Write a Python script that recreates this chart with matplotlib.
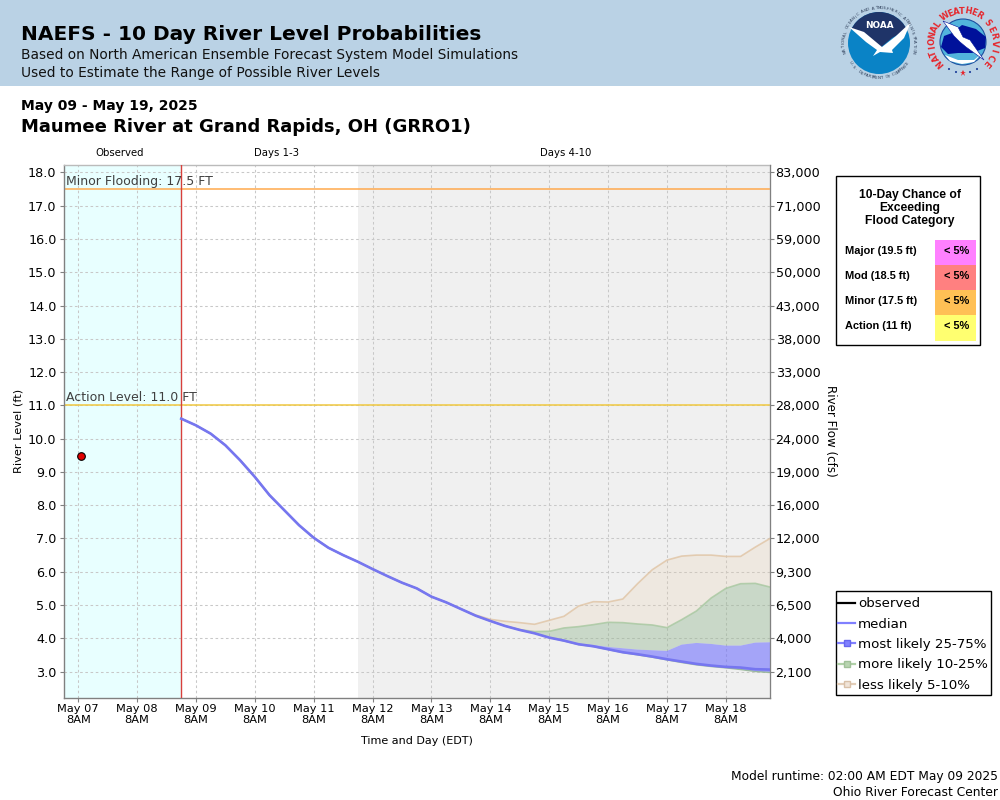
from datetime import datetime, timedelta
import numpy as np
import matplotlib
matplotlib.use('Agg')
import matplotlib.pyplot as plt
import matplotlib.dates as mdates
from matplotlib.lines import Line2D
from matplotlib.patches import Rectangle, Circle, Polygon

plt.rcParams['font.family'] = 'DejaVu Sans'

# forecast points every 6 hours starting May 09 2AM
start = datetime(2025, 5, 9, 2)
median = [10.6, 10.4, 10.15, 9.8, 9.35, 8.85, 8.3, 7.85, 7.4, 7.02, 6.72, 6.5, 6.3, 6.08,
          5.87, 5.67, 5.5, 5.25, 5.08, 4.88, 4.68, 4.52, 4.37, 4.25, 4.15, 4.02, 3.93, 3.82,
          3.76, 3.67, 3.58, 3.52, 3.45, 3.37, 3.3, 3.23, 3.18, 3.14, 3.12, 3.07, 3.06]
lower_25 = [10.6, 10.4, 10.15, 9.8, 9.35, 8.85, 8.3, 7.85, 7.4, 7.02, 6.72, 6.5, 6.3, 6.08,
            5.87, 5.67, 5.5, 5.25, 5.08, 4.88, 4.68, 4.52, 4.37, 4.25, 4.15, 4.02, 3.92, 3.81,
            3.75, 3.66, 3.57, 3.5, 3.43, 3.35, 3.27, 3.2, 3.15, 3.11, 3.06, 3.0, 2.97]
upper_25 = [10.6, 10.4, 10.15, 9.8, 9.35, 8.85, 8.3, 7.85, 7.4, 7.02, 6.72, 6.5, 6.3, 6.08,
            5.87, 5.67, 5.5, 5.25, 5.08, 4.88, 4.68, 4.52, 4.37, 4.25, 4.15, 4.02, 3.96, 3.84,
            3.8, 3.74, 3.7, 3.66, 3.64, 3.62, 3.81, 3.86, 3.83, 3.78, 3.78, 3.87, 3.88]
upper_10 = [10.6, 10.4, 10.15, 9.8, 9.35, 8.85, 8.3, 7.85, 7.4, 7.02, 6.72, 6.5, 6.3, 6.08,
            5.87, 5.67, 5.5, 5.25, 5.08, 4.88, 4.68, 4.52, 4.37, 4.26, 4.2, 4.21, 4.31, 4.35,
            4.41, 4.48, 4.47, 4.43, 4.4, 4.32, 4.56, 4.82, 5.21, 5.5, 5.64, 5.65, 5.54]
upper_5 = [10.6, 10.4, 10.15, 9.8, 9.35, 8.85, 8.3, 7.85, 7.4, 7.02, 6.72, 6.5, 6.3, 6.08,
           5.87, 5.67, 5.5, 5.25, 5.08, 4.88, 4.7, 4.57, 4.51, 4.47, 4.42, 4.54, 4.66, 4.97,
           5.1, 5.09, 5.18, 5.64, 6.06, 6.35, 6.47, 6.5, 6.5, 6.46, 6.46, 6.74, 7.0]
times = [start + timedelta(hours=6 * i) for i in range(len(median))]

obs_time = [datetime(2025, 5, 7, 9)]
obs_level = [9.48]

stage_ticks = list(range(3, 19))
flow_labels = ['2,100', '4,000', '6,500', '9,300', '12,000', '16,000', '19,000', '24,000',
               '28,000', '33,000', '38,000', '43,000', '50,000', '59,000', '71,000', '83,000']
day_ticks = [datetime(2025, 5, d, 8) for d in range(7, 19)]

categories = ['Major (19.5 ft)', 'Mod (18.5 ft)', 'Minor (17.5 ft)', 'Action (11 ft)']
chances = ['< 5%', '< 5%', '< 5%', '< 5%']
cat_colors = ['#ff80ff', '#ff8080', '#ffc055', '#ffff70']

W, H = 1000, 800
fig = plt.figure(figsize=(10, 8), dpi=100)


def fx(px):
    return px / W


def fy(py):
    return 1 - py / H


def ring_text(ax, text, cx, cy, r, a0, a1, bottom=False, **kw):
    # letters placed one by one along an arc, angles in degrees
    for ch, a in zip(text, np.linspace(a0, a1, len(text))):
        rad = np.deg2rad(a)
        rot = a + 90 if bottom else a - 90
        ax.text(cx + r * np.cos(rad), cy - r * np.sin(rad), ch, ha='center', va='center', rotation=rot, **kw)


# header band
fig.add_artist(Rectangle((0, fy(86)), 1, 86 / H, transform=fig.transFigure, color='#bad2e5', lw=0))
fig.text(fx(21), fy(40), 'NAEFS - 10 Day River Level Probabilities', fontsize=14.5, fontweight='bold', va='baseline')
fig.text(fx(21), fy(58.5), 'Based on North American Ensemble Forecast System Model Simulations', fontsize=9.9, va='baseline', color='#111111')
fig.text(fx(21), fy(77.3), 'Used to Estimate the Range of Possible River Levels', fontsize=9.9, va='baseline', color='#111111')
fig.text(fx(21), fy(110), 'May 09 - May 19, 2025', fontsize=10, fontweight='bold', va='baseline')
fig.text(fx(21), fy(132), 'Maumee River at Grand Rapids, OH (GRRO1)', fontsize=13, fontweight='bold', va='baseline')

# logos, rough
logo = fig.add_axes([0, 0, 1, 1], zorder=5)
logo.set_xlim(0, W)
logo.set_ylim(H, 0)
logo.axis('off')

disc = Circle((879, 43), 31, fc='#0a83c6', ec='none')
logo.add_patch(disc)
navy = Polygon([[845, 5], [913, 5], [913, 26], [892, 38], [880, 48], [866, 36], [845, 26]], fc='#1f3468', lw=0)
logo.add_patch(navy)
navy.set_clip_path(disc)
bird = Polygon([[849, 27], [864, 32], [876, 42], [882, 47], [896, 36], [911, 22], [904, 38], [892, 50], [893, 53],
                [880, 52], [873, 56], [877, 50], [866, 42]], fc='white', lw=0)
logo.add_patch(bird)
logo.text(879, 25, 'NOAA', color='white', fontsize=6.4, fontweight='bold', ha='center', va='center')
ring_text(logo, 'NATIONAL OCEANIC AND ATMOSPHERIC ADMINISTRATION', 879, 43, 35, 195, -15,
          color='#2a3a55', fontsize=2.9)
ring_text(logo, 'U.S. DEPARTMENT OF COMMERCE', 879, 43, 35, 215, 325, bottom=True, color='#2a3a55', fontsize=2.9)

logo.add_patch(Circle((963, 42), 23, fc='#52b4dc', ec='#1d4fa0', lw=0.8))
logo.add_patch(Polygon([[941, 47], [944, 36], [952, 33], [962, 25], [976, 29], [986, 37], [985, 48], [972, 53], [958, 53], [948, 54]],
                       fc='#00119a', lw=0))
logo.add_patch(Polygon([[945, 55], [958, 60], [974, 60], [981, 54], [974, 62], [962, 64], [950, 61]], fc='#ffffff', lw=0))
logo.add_patch(Polygon([[943, 21], [958, 27], [963, 37], [970, 40], [984, 60], [966, 47], [960, 42], [954, 36]],
                       fc='white', ec='#00119a', lw=0.4))
ring_text(logo, 'NATIONAL', 963, 42, 31, 222, 145, color='#e6262c', fontsize=6, fontweight='bold')
ring_text(logo, 'WEATHER', 963, 42, 31, 125, 58, color='#e6262c', fontsize=6, fontweight='bold')
ring_text(logo, 'SERVICE', 963, 42, 31, 38, -42, color='#e6262c', fontsize=6, fontweight='bold')
for sx, sy, sz in [(949, 69, 1.5), (956, 72, 1.5), (970, 72, 1.5), (977, 69, 1.5)]:
    logo.add_patch(Circle((sx, sy), sz * 0.7, fc='#1d3f9a', lw=0))
logo.plot([963], [73], marker='*', color='#e6262c', ms=4.5, mew=0)
logo.set_xlim(0, W)
logo.set_ylim(H, 0)

# main axes, pixel box 63.5-770 x 164.5-697.5
ax = fig.add_axes([fx(63.5), fy(697.5), 706.5 / W, 533 / H], zorder=2)
xmin, xmax = datetime(2025, 5, 7, 2), datetime(2025, 5, 19, 2)
ax.set_xlim(xmin, xmax)
ax.set_ylim(2.22, 18.24)
ax.axvspan(xmin, start, color='#e8ffff', lw=0, zorder=0)
ax.axvspan(datetime(2025, 5, 12, 2), xmax, color='#f0f0f0', lw=0, zorder=0)
ax.grid(True, color='#c8c8c8', ls=(0, (2.5, 2.5)), lw=0.75, zorder=1)
ax.set_axisbelow(True)

ax.axhline(17.5, color='#ffa94d', lw=1.1, zorder=2)
ax.axhline(11.0, color='#f0c840', lw=1.1, zorder=2)
ax.text(datetime(2025, 5, 7, 3), 17.53, 'Minor Flooding: 17.5 FT', fontsize=9, color='#404040', va='bottom', zorder=6)
ax.text(datetime(2025, 5, 7, 3), 11.03, 'Action Level: 11.0 FT', fontsize=9, color='#404040', va='bottom', zorder=6)
ax.axvline(start, color='#d8403c', lw=1, zorder=3)

t = mdates.date2num(times)
ax.fill_between(t, upper_10, upper_5, fc='#e8c8a0', alpha=0.2, ec='none', zorder=3)
ax.plot(t, upper_5, color='#e0c4a4', alpha=0.8, lw=1.2, zorder=3)
ax.fill_between(t, upper_25, upper_10, fc='#90b48c', alpha=0.4, ec='none', zorder=3)
ax.plot(t, upper_10, color='#a8c8a0', alpha=0.8, lw=1.2, zorder=3)
ax.fill_between(t, lower_25, upper_25, fc='#6666ff', alpha=0.55, ec='none', zorder=3)
ax.plot(t, lower_25, color='#90b48c', alpha=0.8, lw=1, zorder=3)
ax.plot(t, median, color='#7676f0', lw=1.9, zorder=4)
ax.plot(obs_time, obs_level, 'o', mfc='#e00000', mec='black', ms=5.5, mew=0.8, zorder=5)

ax.set_xticks(day_ticks)
ax.set_xticklabels([d.strftime('%b %d') + '\n8AM' for d in day_ticks], fontsize=8.2, linespacing=1.1)
ax.set_yticks(stage_ticks)
ax.set_yticklabels([f'{v:.1f}' for v in stage_ticks], fontsize=9.2)
ax.tick_params(axis='both', color='#808080', length=3, width=0.8, pad=2)
ax.set_ylabel('River Level (ft)', fontsize=8.2, labelpad=3)
ax.set_xlabel('Time and Day (EDT)', fontsize=8, labelpad=8)
for side, sp in ax.spines.items():
    sp.set_color('#808080' if side in ('left', 'bottom') else '#bbbbbb')
    sp.set_linewidth(1)

ax2 = ax.twinx()
ax2.set_ylim(ax.get_ylim())
ax2.set_yticks(stage_ticks)
ax2.set_yticklabels(flow_labels, fontsize=9.2)
ax2.tick_params(axis='y', color='#808080', length=3, width=0.8, pad=1)
ax2.set_ylabel('River Flow (cfs)', fontsize=8.6, rotation=270, labelpad=12)
ax2.spines['right'].set_color('#808080')
for side in ('left', 'top', 'bottom'):
    ax2.spines[side].set_visible(False)

fig.text(fx(120), fy(153), 'Observed', fontsize=7.3, ha='center', va='center')
fig.text(fx(276.5), fy(153), 'Days 1-3', fontsize=7.3, ha='center', va='center')
fig.text(fx(566), fy(153), 'Days 4-10', fontsize=7.3, ha='center', va='center')

# chance of exceeding table
logo.add_patch(Rectangle((836, 176), 144, 169, fc='white', ec='black', lw=1))
for i, line in enumerate(['10-Day Chance of', 'Exceeding', 'Flood Category']):
    logo.text(910, 195 + 13 * i, line, family='Liberation Sans', fontweight='bold', fontsize=8.7, ha='center', va='center')
for i, (cat, pct, col) in enumerate(zip(categories, chances, cat_colors)):
    yc = 251 + 25 * i
    logo.add_patch(Rectangle((935, 240 + 25 * i), 41, 25 + (1 if i == 3 else 0), fc=col, lw=0))
    logo.text(845, yc, cat, family='Liberation Sans', fontweight='bold', fontsize=7.9, va='center')
    logo.text(969.5, yc, pct, family='Liberation Sans', fontweight='bold', fontsize=7.9, va='center', ha='right')

# legend box drawn apart so its padding can differ from the legend's own
logo.add_patch(Rectangle((835.5, 591), 155.5, 104, fc='white', ec='black', lw=1))
handles = [
    Line2D([], [], color='black', lw=1.6),
    Line2D([], [], color='#8080ff', lw=1.6),
    Line2D([], [], color='#8080ff', lw=1.6, marker='s', ms=4.5, mfc='#8080ff', mec='#6666ee'),
    Line2D([], [], color='#b0d0a8', lw=1.6, marker='s', ms=4.5, mfc='#b8d4b0', mec='#a0c098'),
    Line2D([], [], color='#e2cdb8', lw=1.6, marker='s', ms=4.5, mfc='#f0e4d8', mec='#d8c0a8'),
]
labels = ['observed', 'median', 'most likely 25-75%', 'more likely 10-25%', 'less likely 5-10%']
leg = fig.legend(handles, labels, loc='upper left', bbox_to_anchor=(fx(835.5), fy(594.7)), fontsize=9.65,
                 frameon=False, borderpad=0.2, labelspacing=0.55, handlelength=1.25, handletextpad=0.22,
                 borderaxespad=0)
leg.set_zorder(6)

fig.text(fx(998), fy(780), 'Model runtime: 02:00 AM EDT May 09 2025', fontsize=8.8, ha='right', va='baseline')
fig.text(fx(998), fy(796), 'Ohio River Forecast Center', fontsize=8.8, ha='right', va='baseline')

fig.savefig('out.png', dpi=100)
